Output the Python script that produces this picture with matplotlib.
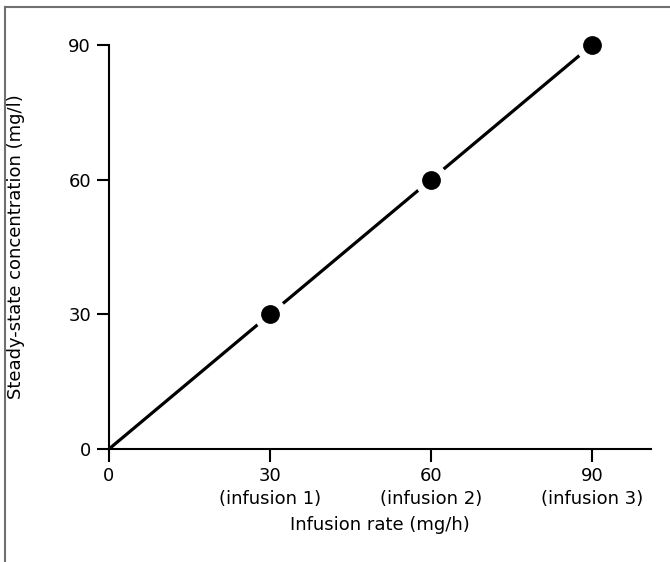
import numpy as np
import matplotlib.pyplot as plt
from matplotlib.lines import Line2D

plt.rcParams['font.family'] = ['DejaVu Sans']

# infusion rate (mg/h) vs steady-state concentration (mg/l)
rates = [30, 60, 90]
concs = [30, 60, 90]
line_x = [0, 90]
line_y = [0, 90]
xticks = [0, 30, 60, 90]
xticklabels = ['0', '30\n(infusion 1)', '60\n(infusion 2)', '90\n(infusion 3)']
yticks = [0, 30, 60, 90]

fig = plt.figure(figsize=(6.7, 5.62), dpi=100)
ax = fig.add_axes([109/670, 1-449/562, (651-109)/670, (449-45)/562])

ax.plot(line_x, line_y, color='black', lw=2.3, solid_capstyle='butt', zorder=2)
ax.scatter(rates, concs, s=23**2, color='white', zorder=3, clip_on=False)
ax.scatter(rates, concs, s=12.5**2, color='black', zorder=4, clip_on=False)

ax.set_xlim(0, 101)
ax.set_ylim(0, 90)
ax.set_xticks(xticks)
ax.set_xticklabels(xticklabels, fontsize=13, linespacing=1.35)
ax.set_yticks(yticks)
ax.tick_params(axis='y', labelsize=13)
ax.tick_params(length=9, width=1.5, direction='out', pad=4)
for s in ['top', 'right']:
    ax.spines[s].set_visible(False)
for s in ['left', 'bottom']:
    ax.spines[s].set_linewidth(1.5)

ax.set_xlabel('Infusion rate (mg/h)', fontsize=13, labelpad=6)
ax.set_ylabel('Steady-state concentration (mg/l)', fontsize=13, labelpad=31)

# frame around the figure (top and left only)
fig.add_artist(Line2D([5/670, 1], [1-7/562, 1-7/562], color='#707070', lw=1.5))
fig.add_artist(Line2D([5/670, 5/670], [0, 1-7/562], color='#707070', lw=1.5))

fig.savefig('out.png', dpi=100)
